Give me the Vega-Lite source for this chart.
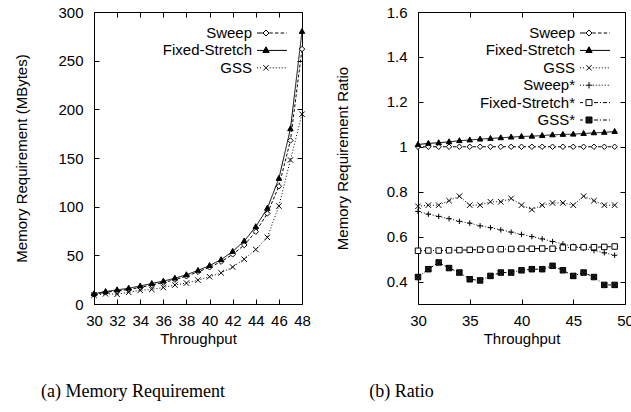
{
  "$schema": "https://vega.github.io/schema/vega-lite/v6.json",
  "padding": {"left": 14, "top": 4, "right": 5, "bottom": 5},
  "background": "white",
  "config": {
    "font": "Liberation Sans",
    "view": {"stroke": "black", "strokeWidth": 1},
    "axis": {"grid": false, "domain": false, "tickColor": "black", "tickSize": -5, "tickWidth": 1, "labelOverlap": false, "labelFlush": false,
      "labelFontSize": 15, "labelColor": "black", "labelFont": "Liberation Sans", "labelPadding": 14,
      "titleFontSize": 15, "titleFontWeight": "normal", "titleColor": "black", "titleFont": "Liberation Sans"},
    "axisY": {"labelPadding": 16},
    "legend": {"title": null, "orient": "top-right", "offset": 13, "symbolSize": 225, "symbolStrokeWidth": 1,
      "symbolStrokeColor": "black", "labelFontSize": 15, "labelFont": "Liberation Sans", "labelColor": "black",
      "labelAlign": "right", "labelOffset": -28, "rowPadding": 1.4, "padding": 0}
  },
  "datasets": {
    "mem": [
      {"t":30,"s":"Sweep","v":10},{"t":31,"s":"Sweep","v":12},{"t":32,"s":"Sweep","v":13.5},{"t":33,"s":"Sweep","v":15},{"t":34,"s":"Sweep","v":17},{"t":35,"s":"Sweep","v":19.5},{"t":36,"s":"Sweep","v":22},{"t":37,"s":"Sweep","v":25},{"t":38,"s":"Sweep","v":28.5},{"t":39,"s":"Sweep","v":33},{"t":40,"s":"Sweep","v":37.7},{"t":41,"s":"Sweep","v":43.5},{"t":42,"s":"Sweep","v":51},{"t":43,"s":"Sweep","v":60.6},{"t":44,"s":"Sweep","v":74.3},{"t":45,"s":"Sweep","v":93},{"t":46,"s":"Sweep","v":121},{"t":47,"s":"Sweep","v":168},{"t":48,"s":"Sweep","v":262},
      {"t":30,"s":"Fixed-Stretch","v":10.5},{"t":31,"s":"Fixed-Stretch","v":12.8},{"t":32,"s":"Fixed-Stretch","v":14.5},{"t":33,"s":"Fixed-Stretch","v":16.2},{"t":34,"s":"Fixed-Stretch","v":18.5},{"t":35,"s":"Fixed-Stretch","v":21},{"t":36,"s":"Fixed-Stretch","v":23.5},{"t":37,"s":"Fixed-Stretch","v":26.5},{"t":38,"s":"Fixed-Stretch","v":30},{"t":39,"s":"Fixed-Stretch","v":34.5},{"t":40,"s":"Fixed-Stretch","v":39.5},{"t":41,"s":"Fixed-Stretch","v":45.5},{"t":42,"s":"Fixed-Stretch","v":54},{"t":43,"s":"Fixed-Stretch","v":64.7},{"t":44,"s":"Fixed-Stretch","v":79.4},{"t":45,"s":"Fixed-Stretch","v":98.3},{"t":46,"s":"Fixed-Stretch","v":129},{"t":47,"s":"Fixed-Stretch","v":180},{"t":48,"s":"Fixed-Stretch","v":280},
      {"t":30,"s":"GSS","v":9},{"t":31,"s":"GSS","v":10.5},{"t":32,"s":"GSS","v":10},{"t":33,"s":"GSS","v":12},{"t":34,"s":"GSS","v":14},{"t":35,"s":"GSS","v":15},{"t":36,"s":"GSS","v":17},{"t":37,"s":"GSS","v":19.5},{"t":38,"s":"GSS","v":21.5},{"t":39,"s":"GSS","v":24.5},{"t":40,"s":"GSS","v":28},{"t":41,"s":"GSS","v":32},{"t":42,"s":"GSS","v":38},{"t":43,"s":"GSS","v":46},{"t":44,"s":"GSS","v":56},{"t":45,"s":"GSS","v":68.5},{"t":46,"s":"GSS","v":100.7},{"t":47,"s":"GSS","v":148},{"t":48,"s":"GSS","v":195}
    ],
    "ratio": [
      {"t":30,"s":"Sweep","v":1},{"t":31,"s":"Sweep","v":1},{"t":32,"s":"Sweep","v":1},{"t":33,"s":"Sweep","v":1},{"t":34,"s":"Sweep","v":1},{"t":35,"s":"Sweep","v":1},{"t":36,"s":"Sweep","v":1},{"t":37,"s":"Sweep","v":1},{"t":38,"s":"Sweep","v":1},{"t":39,"s":"Sweep","v":1},{"t":40,"s":"Sweep","v":1},{"t":41,"s":"Sweep","v":1},{"t":42,"s":"Sweep","v":1},{"t":43,"s":"Sweep","v":1},{"t":44,"s":"Sweep","v":1},{"t":45,"s":"Sweep","v":1},{"t":46,"s":"Sweep","v":1},{"t":47,"s":"Sweep","v":1},{"t":48,"s":"Sweep","v":1},{"t":49,"s":"Sweep","v":1},
      {"t":30,"s":"Fixed-Stretch","v":1.010},{"t":31,"s":"Fixed-Stretch","v":1.015},{"t":32,"s":"Fixed-Stretch","v":1.018},{"t":33,"s":"Fixed-Stretch","v":1.022},{"t":34,"s":"Fixed-Stretch","v":1.027},{"t":35,"s":"Fixed-Stretch","v":1.030},{"t":36,"s":"Fixed-Stretch","v":1.034},{"t":37,"s":"Fixed-Stretch","v":1.037},{"t":38,"s":"Fixed-Stretch","v":1.040},{"t":39,"s":"Fixed-Stretch","v":1.043},{"t":40,"s":"Fixed-Stretch","v":1.046},{"t":41,"s":"Fixed-Stretch","v":1.047},{"t":42,"s":"Fixed-Stretch","v":1.050},{"t":43,"s":"Fixed-Stretch","v":1.053},{"t":44,"s":"Fixed-Stretch","v":1.055},{"t":45,"s":"Fixed-Stretch","v":1.056},{"t":46,"s":"Fixed-Stretch","v":1.059},{"t":47,"s":"Fixed-Stretch","v":1.062},{"t":48,"s":"Fixed-Stretch","v":1.064},{"t":49,"s":"Fixed-Stretch","v":1.068},
      {"t":30,"s":"GSS","v":0.735},{"t":31,"s":"GSS","v":0.74},{"t":32,"s":"GSS","v":0.74},{"t":33,"s":"GSS","v":0.76},{"t":34,"s":"GSS","v":0.78},{"t":35,"s":"GSS","v":0.74},{"t":36,"s":"GSS","v":0.74},{"t":37,"s":"GSS","v":0.755},{"t":38,"s":"GSS","v":0.755},{"t":39,"s":"GSS","v":0.77},{"t":40,"s":"GSS","v":0.74},{"t":41,"s":"GSS","v":0.72},{"t":42,"s":"GSS","v":0.74},{"t":43,"s":"GSS","v":0.75},{"t":44,"s":"GSS","v":0.75},{"t":45,"s":"GSS","v":0.74},{"t":46,"s":"GSS","v":0.78},{"t":47,"s":"GSS","v":0.76},{"t":48,"s":"GSS","v":0.74},{"t":49,"s":"GSS","v":0.74},
      {"t":30,"s":"Sweep*","v":0.712},{"t":31,"s":"Sweep*","v":0.70},{"t":32,"s":"Sweep*","v":0.69},{"t":33,"s":"Sweep*","v":0.68},{"t":34,"s":"Sweep*","v":0.668},{"t":35,"s":"Sweep*","v":0.66},{"t":36,"s":"Sweep*","v":0.648},{"t":37,"s":"Sweep*","v":0.64},{"t":38,"s":"Sweep*","v":0.63},{"t":39,"s":"Sweep*","v":0.62},{"t":40,"s":"Sweep*","v":0.61},{"t":41,"s":"Sweep*","v":0.60},{"t":42,"s":"Sweep*","v":0.59},{"t":43,"s":"Sweep*","v":0.578},{"t":44,"s":"Sweep*","v":0.567},{"t":45,"s":"Sweep*","v":0.557},{"t":46,"s":"Sweep*","v":0.548},{"t":47,"s":"Sweep*","v":0.538},{"t":48,"s":"Sweep*","v":0.528},{"t":49,"s":"Sweep*","v":0.517},
      {"t":30,"s":"Fixed-Stretch*","v":0.537},{"t":31,"s":"Fixed-Stretch*","v":0.538},{"t":32,"s":"Fixed-Stretch*","v":0.538},{"t":33,"s":"Fixed-Stretch*","v":0.539},{"t":34,"s":"Fixed-Stretch*","v":0.540},{"t":35,"s":"Fixed-Stretch*","v":0.541},{"t":36,"s":"Fixed-Stretch*","v":0.542},{"t":37,"s":"Fixed-Stretch*","v":0.543},{"t":38,"s":"Fixed-Stretch*","v":0.544},{"t":39,"s":"Fixed-Stretch*","v":0.545},{"t":40,"s":"Fixed-Stretch*","v":0.546},{"t":41,"s":"Fixed-Stretch*","v":0.546},{"t":42,"s":"Fixed-Stretch*","v":0.547},{"t":43,"s":"Fixed-Stretch*","v":0.546},{"t":44,"s":"Fixed-Stretch*","v":0.551},{"t":45,"s":"Fixed-Stretch*","v":0.552},{"t":46,"s":"Fixed-Stretch*","v":0.553},{"t":47,"s":"Fixed-Stretch*","v":0.553},{"t":48,"s":"Fixed-Stretch*","v":0.554},{"t":49,"s":"Fixed-Stretch*","v":0.556},
      {"t":30,"s":"GSS*","v":0.42},{"t":31,"s":"GSS*","v":0.455},{"t":32,"s":"GSS*","v":0.485},{"t":33,"s":"GSS*","v":0.46},{"t":34,"s":"GSS*","v":0.44},{"t":35,"s":"GSS*","v":0.41},{"t":36,"s":"GSS*","v":0.405},{"t":37,"s":"GSS*","v":0.425},{"t":38,"s":"GSS*","v":0.44},{"t":39,"s":"GSS*","v":0.44},{"t":40,"s":"GSS*","v":0.45},{"t":41,"s":"GSS*","v":0.455},{"t":42,"s":"GSS*","v":0.455},{"t":43,"s":"GSS*","v":0.47},{"t":44,"s":"GSS*","v":0.45},{"t":45,"s":"GSS*","v":0.425},{"t":46,"s":"GSS*","v":0.44},{"t":47,"s":"GSS*","v":0.42},{"t":48,"s":"GSS*","v":0.385},{"t":49,"s":"GSS*","v":0.385}
    ]
  },
  "spacing": 23,
  "resolve": {"scale": {"shape": "independent", "fill": "independent", "stroke": "independent", "strokeDash": "independent", "x": "independent", "y": "independent"}, "legend": {"shape": "independent", "fill": "independent", "stroke": "independent", "strokeDash": "independent"}},
  "hconcat": [
    {
      "width": 208, "height": 292,
      "data": {"name": "mem"},
      "title": {"text": "(a) Memory Requirement", "orient": "bottom", "frame": "group", "anchor": "middle", "dx": -65, "offset": 37, "font": "Liberation Serif", "fontSize": 18, "fontWeight": "normal", "color": "black"},
      "layer": [
        {
          "mark": {"type": "line", "stroke": "black", "strokeWidth": 1},
          "encoding": {
            "x": {"field": "t", "type": "quantitative", "scale": {"domain": [30, 48], "nice": false, "zero": false}, "axis": {"title": "Throughput", "values": [30,32,34,36,38,40,42,44,46,48], "titlePadding": 3}},
            "y": {"field": "v", "type": "quantitative", "scale": {"domain": [0, 300], "nice": false}, "axis": {"title": "Memory Requirement (MBytes)", "values": [0,50,100,150,200,250,300], "titlePadding": 28}},
            "strokeDash": {"field": "s", "type": "nominal", "scale": {"domain": ["Sweep","Fixed-Stretch","GSS"], "range": [[3,2],[1,0],[1,2]]}, "legend": null}
          }
        },
        {
          "mark": {"type": "point", "stroke": "black", "strokeWidth": 1, "size": 30, "opacity": 1},
          "encoding": {
            "x": {"field": "t", "type": "quantitative", "axis": {"orient": "top", "labels": false, "title": null, "values": [30,32,34,36,38,40,42,44,46,48]}},
            "y": {"field": "v", "type": "quantitative", "axis": {"orient": "right", "labels": false, "title": null, "values": [0,50,100,150,200,250,300]}},
            "shape": {"field": "s", "type": "nominal", "scale": {"domain": ["Sweep","Fixed-Stretch","GSS"], "range": ["M0,-1L1,0L0,1L-1,0Z", "M0,-1.1L1,0.7L-1,0.7Z", "M-1,-1L1,1M-1,1L1,-1"]}, "legend": null},
            "fill": {"field": "s", "type": "nominal", "scale": {"domain": ["Sweep","Fixed-Stretch","GSS"], "range": ["white", "black", "transparent"]}, "legend": null}
          }
        },
        {
          "transform": [{"filter": "false"}],
          "mark": {"type": "point", "strokeWidth": 1, "opacity": 1},
          "encoding": {
            "shape": {"field": "s", "type": "nominal", "scale": {"domain": ["Sweep","Fixed-Stretch","GSS"], "range": [
              "M-2,0H-1.24M-0.36,0H0.1M0.4,0H0.86M1.16,0H1.62M1.92,0H2M-0.8,-0.4L-0.4,0L-0.8,0.4L-1.2,0Z",
              "M-2,0H2M-0.8,-0.48L-0.38,0.28L-1.22,0.28Z",
              "M-2,0H-1.86M-1.6,0H-1.46M-0.3,0H-0.16M0.1,0H0.24M0.5,0H0.64M0.9,0H1.04M1.3,0H1.44M1.7,0H1.84M-1.16,-0.36L-0.44,0.36M-1.16,0.36L-0.44,-0.36"
            ]}, "legend": {"title": null}},
            "fill": {"field": "s", "type": "nominal", "scale": {"domain": ["Sweep","Fixed-Stretch","GSS"], "range": ["white", "black", "transparent"]}, "legend": {"title": null}},
            "stroke": {"field": "s", "type": "nominal", "scale": {"domain": ["Sweep","Fixed-Stretch","GSS"], "range": ["black", "black", "black"]}, "legend": {"title": null}}
          }
        }
      ],
      "resolve": {"scale": {"shape": "independent", "fill": "independent", "stroke": "independent"}, "axis": {"x": "independent", "y": "independent"}}
    },
    {
      "width": 207, "height": 292,
      "data": {"name": "ratio"},
      "title": {"text": "(b) Ratio", "orient": "bottom", "frame": "group", "anchor": "middle", "dx": -120, "offset": 37, "font": "Liberation Serif", "fontSize": 18, "fontWeight": "normal", "color": "black"},
      "layer": [
        {
          "mark": {"type": "line", "stroke": "black", "strokeWidth": 1},
          "encoding": {
            "x": {"field": "t", "type": "quantitative", "scale": {"domain": [30, 50], "nice": false, "zero": false}, "axis": {"title": "Throughput", "values": [30,35,40,45,50], "titlePadding": 3}},
            "y": {"field": "v", "type": "quantitative", "scale": {"domain": [0.3, 1.6], "nice": false, "zero": false}, "axis": {"title": "Memory Requirement Ratio", "values": [0.4,0.6,0.8,1,1.2,1.4,1.6], "format": "~g", "titlePadding": 36}},
            "strokeDash": {"field": "s", "type": "nominal", "scale": {"domain": ["Sweep","Fixed-Stretch","GSS","Sweep*","Fixed-Stretch*","GSS*"], "range": [[3,2],[1,0],[1,2],[1,2],[4,2,1,2],[3,2,1,2]]}, "legend": null}
          }
        },
        {
          "mark": {"type": "point", "stroke": "black", "strokeWidth": 1, "size": 30, "opacity": 1},
          "encoding": {
            "x": {"field": "t", "type": "quantitative", "axis": {"orient": "top", "labels": false, "title": null, "values": [30,35,40,45,50]}},
            "y": {"field": "v", "type": "quantitative", "axis": {"orient": "right", "labels": false, "title": null, "values": [0.4,0.6,0.8,1,1.2,1.4,1.6]}},
            "shape": {"field": "s", "type": "nominal", "scale": {"domain": ["Sweep","Fixed-Stretch","GSS","Sweep*","Fixed-Stretch*","GSS*"], "range": ["M0,-1L1,0L0,1L-1,0Z", "M0,-1.1L1,0.7L-1,0.7Z", "M-1,-1L1,1M-1,1L1,-1", "M-1,0H1M0,-1V1", "M-1,-1H1V1H-1Z", "M-1,-1H1V1H-1ZM-1,-1L1,1M-1,1L1,-1"]}, "legend": null},
            "fill": {"field": "s", "type": "nominal", "scale": {"domain": ["Sweep","Fixed-Stretch","GSS","Sweep*","Fixed-Stretch*","GSS*"], "range": ["white", "black", "transparent", "transparent", "white", "#222222"]}, "legend": null}
          }
        },
        {
          "transform": [{"filter": "false"}],
          "mark": {"type": "point", "strokeWidth": 1, "opacity": 1},
          "encoding": {
            "shape": {"field": "s", "type": "nominal", "scale": {"domain": ["Sweep","Fixed-Stretch","GSS","Sweep*","Fixed-Stretch*","GSS*"], "range": [
              "M-2,0H-1.24M-0.36,0H0.1M0.4,0H0.86M1.16,0H1.62M1.92,0H2M-0.8,-0.4L-0.4,0L-0.8,0.4L-1.2,0Z",
              "M-2,0H2M-0.8,-0.48L-0.38,0.28L-1.22,0.28Z",
              "M-2,0H-1.86M-1.6,0H-1.46M-0.3,0H-0.16M0.1,0H0.24M0.5,0H0.64M0.9,0H1.04M1.3,0H1.44M1.7,0H1.84M-1.16,-0.36L-0.44,0.36M-1.16,0.36L-0.44,-0.36",
              "M-2,0H-1.86M-1.6,0H-1.46M-0.3,0H-0.16M0.1,0H0.24M0.5,0H0.64M0.9,0H1.04M1.3,0H1.44M1.7,0H1.84M-1.24,0H-0.36M-0.8,-0.44V0.44",
              "M-2,0H-1.6M-1.2,-0.4H-0.4V0.4H-1.2ZM-0.14,0H0.4M0.66,0H0.8M1.06,0H1.6M1.86,0H2",
              "M-2,0H-1.6M-1.2,-0.4H-0.4V0.4H-1.2ZM-1.2,-0.4L-0.4,0.4M-1.2,0.4L-0.4,-0.4M-0.14,0H0.4M0.66,0H0.8M1.06,0H1.6M1.86,0H2"
            ]}, "legend": {"title": null}},
            "fill": {"field": "s", "type": "nominal", "scale": {"domain": ["Sweep","Fixed-Stretch","GSS","Sweep*","Fixed-Stretch*","GSS*"], "range": ["white", "black", "transparent", "transparent", "white", "#222222"]}, "legend": {"title": null}},
            "stroke": {"field": "s", "type": "nominal", "scale": {"domain": ["Sweep","Fixed-Stretch","GSS","Sweep*","Fixed-Stretch*","GSS*"], "range": ["black", "black", "black", "black", "black", "black"]}, "legend": {"title": null}}
          }
        }
      ],
      "resolve": {"scale": {"shape": "independent", "fill": "independent", "stroke": "independent"}, "axis": {"x": "independent", "y": "independent"}}
    }
  ]
}
